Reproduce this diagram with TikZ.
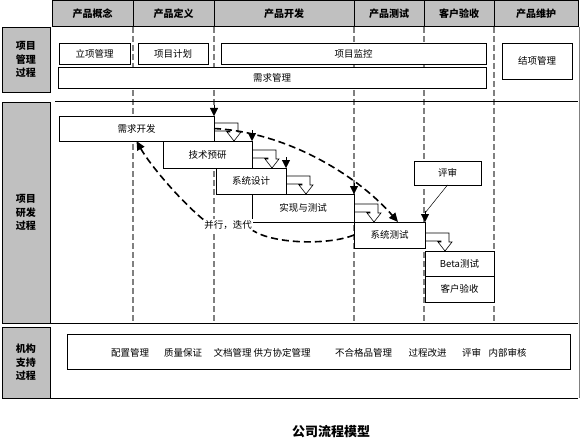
\documentclass[tikz,border=0pt]{standalone}
\usepackage{fontspec}
\setmainfont{Noto Sans CJK SC}
\usetikzlibrary{arrows.meta,calc}
\definecolor{hdgray}{HTML}{C0C0C0}
% hollow bent arrow from one stage to the next
\newcommand{\bentstep}[2]{%
  \draw[bentarrow] let \p1=(#1.east), \p2=(#2.north) in
    (\x1,\y2+18pt) -- (\x1+24pt,\y2+18pt) -- (\x1+24pt,\y2+9pt) -- (\x1+27pt,\y2+9pt)
    -- (\x1+20pt,\y2) -- (\x1+13pt,\y2+9pt) -- (\x1+16pt,\y2+9pt) -- (\x1+16pt,\y2+10pt) -- (\x1,\y2+10pt);}

\begin{document}
\begin{tikzpicture}[x=1pt,y=-1pt,
  every node/.style={font=\fontsize{9.5}{11}\selectfont, inner sep=0pt, outer sep=0pt},
  box/.style={draw, fill=white, line width=0.6pt},
  phase/.style={box, fill=hdgray, font=\fontsize{10}{12}\selectfont\bfseries, minimum height=26pt},
  lane/.style={box, fill=hdgray, font=\fontsize{10}{13.5}\selectfont\bfseries, align=center, minimum width=48pt},
  gate/.style={gray, dash pattern=on 6pt off 3pt, line width=1.5pt},
  iterarc/.style={line width=1.6pt, dash pattern=on 7pt off 4pt, -{Triangle[width=8pt,length=9pt]}},
  milestone/.style={-{Triangle[width=8pt,length=8pt]}},
  bentarrow/.style={line width=0.6pt}]
\useasboundingbox (0,0) rectangle (580,441);

% phase header
\node[phase, minimum width=81pt] (h1) at (92.5,13.5) {产品概念};
\node[phase, minimum width=81pt] (h2) at (173.5,13.5) {产品定义};
\node[phase, minimum width=140pt] (h3) at (284,13.5) {产品开发};
\node[phase, minimum width=70pt] (h4) at (389,13.5) {产品测试};
\node[phase, minimum width=70pt] (h5) at (459,13.5) {客户验收};
\node[phase, minimum width=84pt] (h6) at (536,13.5) {产品维护};

% lanes
\node[lane, minimum height=65pt] (pm) at (26,59.5) {项目\\管理\\过程};
\node[lane, minimum height=221pt] (rd) at (26,212.5) {项目\\研发\\过程};
\node[lane, minimum height=71pt] (org) at (26,362.5) {机构\\支持\\过程};

\foreach \x in {133,214,354,424,494}
  \draw[gate] (\x,27) -- (\x,322);
\draw[line width=0.6pt] (55,101) -- (578,101);
\draw[line width=0.6pt] (50,323) -- (578,323);
\draw[line width=0.6pt] (50,398) -- (578,398);
\draw[gray, line width=0.6pt] (579,27) -- (579,398);

% project management
\node[box, minimum width=71pt, minimum height=21pt] (lxgl) at (94.5,53.5) {立项管理};
\node[box, minimum width=70pt, minimum height=21pt] (xmjh) at (173,53.5) {项目计划};
\node[box, minimum width=265pt, minimum height=21pt] (xmjk) at (353.5,53.5) {项目监控};
\node[box, minimum width=428pt, minimum height=21pt] (xqgl) at (272,77.5) {需求管理};
\node[box, minimum width=70pt, minimum height=36pt] (jxgl) at (537,61) {结项管理};

% development stages
\node[box, minimum width=155pt, minimum height=25pt] (req) at (136.5,128.5) {需求开发};
\node[box, minimum width=89pt, minimum height=27pt] (tech) at (207.5,154.5) {技术预研};
\node[box, minimum width=70pt, minimum height=26pt] (design) at (251,181) {系统设计};
\node[box, minimum width=102pt, minimum height=28pt] (impl) at (303,208) {实现与测试};
\node[box, minimum width=71pt, minimum height=26pt] (systest) at (389.5,235) {系统测试};
\node[box, minimum width=69pt, minimum height=25pt] (beta) at (459.5,263.5) {Beta测试};
\node[box, minimum width=69pt, minimum height=26pt] (accept) at (459.5,289) {客户验收};
\node[box, minimum width=67pt, minimum height=24pt] (review) at (447.5,173) {评审};
\node[fill=white, inner sep=1pt] (lbl) at (228,225) {并行，迭代};

\bentstep{req}{tech}
\bentstep{tech}{design}
\bentstep{design}{impl}
\bentstep{impl}{systest}
\bentstep{systest}{beta}

\foreach \b in {req,tech,design,impl,systest}
  \draw[milestone] ([yshift=11pt]\b.north east) -- (\b.north east);
\draw[line width=0.5pt] (review.south) -- ([yshift=9pt]systest.north east);

\draw[iterarc] (req.east) .. controls +(76,4) and +(-38,-44) .. ([xshift=8.5pt]systest.north);
\draw[iterarc, -] (systest.west) .. controls +(-24,10) and +(22,14) .. (lbl.south east);
\draw[iterarc] (lbl.north west) .. controls +(-23,-19) and +(13.5,24) .. (req.south);

% support processes
\node[box, minimum width=503pt, minimum height=35pt] (support) at (318.5,351.5) {};
\node (pzgl) at (130,352.5) {配置管理};
\node (zlbz) at (183,352.5) {质量保证};
\node (wdgl) at (232.5,352.5) {文档管理};
\node (gfxd) at (282,352.5) {供方协定管理};
\node (bhgp) at (363.5,352.5) {不合格品管理};
\node (gcgj) at (427.5,352.5) {过程改进};
\node (ps) at (471.5,352.5) {评审};
\node (nbsh) at (507.5,352.5) {内部审核};

\node[font=\fontsize{13}{15}\selectfont\bfseries] (title) at (331,432) {公司流程模型};
\end{tikzpicture}
\end{document}
